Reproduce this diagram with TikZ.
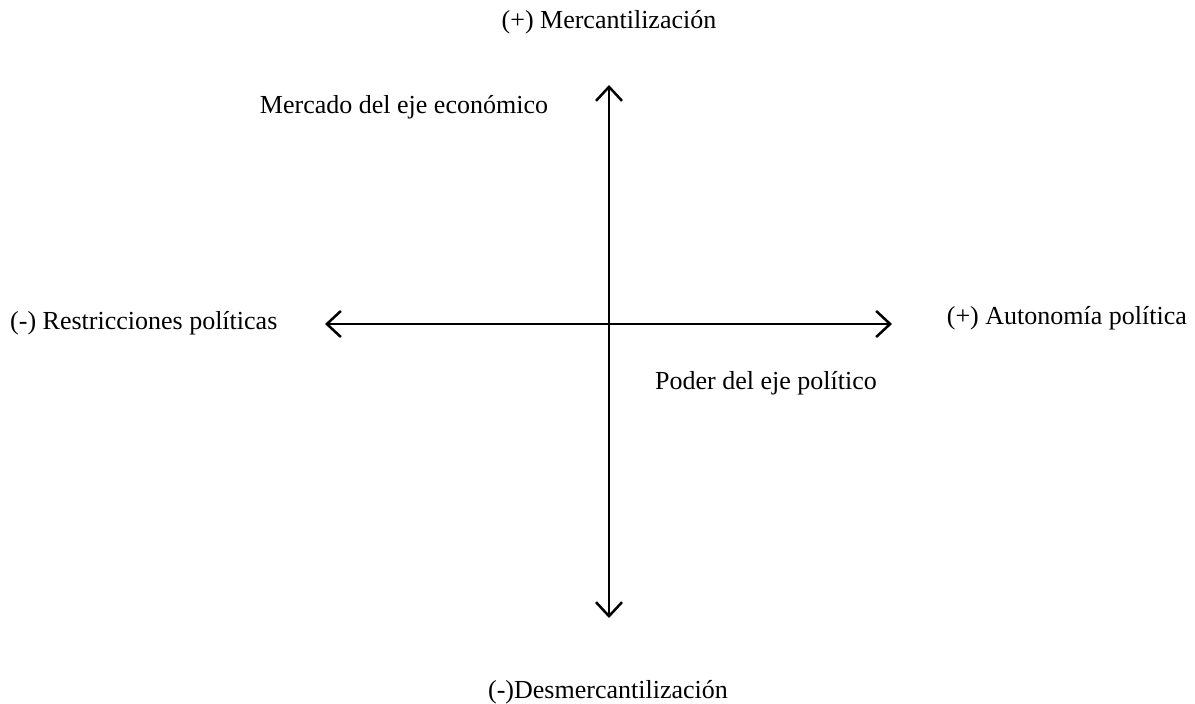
\documentclass[tikz,border=0pt]{standalone}
\usepackage{fontspec}
\setmainfont{Liberation Serif}
\usetikzlibrary{arrows.meta}
\begin{document}
\begin{tikzpicture}[x=1pt,y=-1pt,
  lbl/.style={inner sep=0pt,font=\fontsize{26}{30}\selectfont},
  axis/.style={line width=2.5pt,{Straight Barb[length=14pt,width=26pt,line width=2.5pt]}-{Straight Barb[length=14pt,width=26pt,line width=2.5pt]}}]
\useasboundingbox (0,0) rectangle (1195,704);
\coordinate (top) at (609,85);
\coordinate (bot) at (609,618);
\coordinate (lft) at (325,324);
\coordinate (rgt) at (892,324);
\draw[axis] (bot) -- (top);
\draw[axis] (lft) -- (rgt);
\node[lbl] (t) at (609,22) {(+) Mercantilización};
\node[lbl] (m) at (404,107) {Mercado del eje económico};
\node[lbl,anchor=west] (l) at (10,323) {(-) Restricciones políticas};
\node[lbl,anchor=east] (r) at (1187,318) {(+) Autonomía política};
\node[lbl] (p) at (766,383) {Poder del eje político};
\node[lbl] (b) at (608,692) {(-)Desmercantilización};
\end{tikzpicture}
\end{document}
